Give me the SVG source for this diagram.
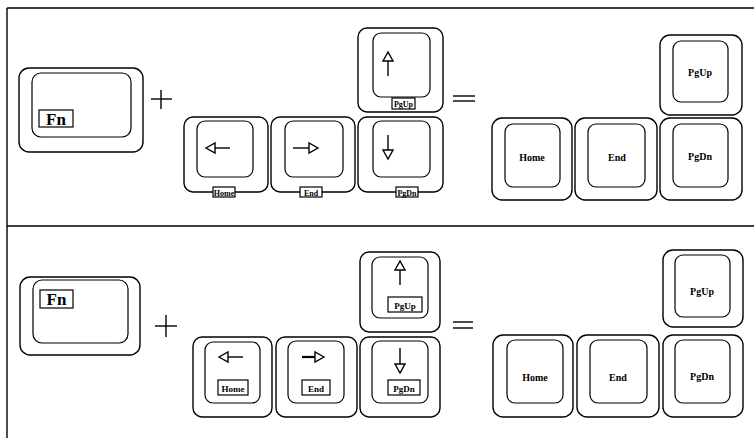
<svg xmlns="http://www.w3.org/2000/svg" width="754" height="438" viewBox="0 0 754 438">
<style>
.o{fill:none;stroke:#000;stroke-width:1.4}
.i{fill:none;stroke:#000;stroke-width:1.2}
.lb{fill:#fff;stroke:#000;stroke-width:1.2}
.ln{stroke:#000;stroke-width:1.4;fill:none}
.ah{fill:#fff;stroke:#000;stroke-width:1.4}
.t{font-family:"Liberation Serif",serif;font-weight:bold;fill:#000;text-anchor:middle}
.fn{font-family:"Liberation Serif",serif;fill:#000;font-size:17px;font-weight:bold;text-anchor:middle}
</style>
<rect width="754" height="438" fill="#fff"/>
<g id="frame">
<line class="ln" x1="7" y1="8" x2="754" y2="8"/>
<line class="ln" x1="7" y1="226" x2="754" y2="226"/>
<line class="ln" x1="7" y1="8" x2="7" y2="438"/>
</g>
<g id="fn1"><rect class="o" x="19" y="68" width="124" height="84" rx="10"/><rect class="i" x="32" y="73" width="99" height="64" rx="9"/><rect class="lb" x="39" y="110" width="34" height="17"/><text class="fn" x="56" y="124.5">Fn</text></g>
<g id="plus1"><line class="ln" x1="151" y1="99" x2="172" y2="99"/><line class="ln" x1="161" y1="90" x2="161" y2="109"/></g>
<g id="left1"><rect class="o" x="184" y="117" width="84" height="75" rx="9"/><rect class="i" x="197" y="121" width="56" height="56" rx="8"/><line class="ln" x1="214" y1="148" x2="230" y2="148"/><polygon class="ah" points="206,148 215,143 215,153"/><rect class="lb" x="213" y="187" width="22" height="10"/><text class="t" x="224" y="195.5" font-size="8">Home</text></g>
<g id="right1"><rect class="o" x="271" y="117" width="84" height="75" rx="9"/><rect class="i" x="285" y="121" width="58" height="56" rx="8"/><line class="ln" x1="293" y1="148" x2="309" y2="148"/><polygon class="ah" points="318,148 309,143 309,153"/><rect class="lb" x="300" y="187" width="22" height="10"/><text class="t" x="311" y="195.5" font-size="8">End</text></g>
<g id="down1"><rect class="o" x="358" y="117" width="85" height="75" rx="9"/><rect class="i" x="373" y="121" width="57" height="56" rx="8"/><line class="ln" x1="388" y1="135" x2="388" y2="150"/><polygon class="ah" points="388,159 383,150 393,150"/><rect class="lb" x="396" y="187" width="22" height="10"/><text class="t" x="407" y="195.5" font-size="8">PgDn</text></g>
<g id="up1"><rect class="o" x="358" y="28" width="85" height="84" rx="9"/><rect class="i" x="373" y="33" width="57" height="64" rx="8"/><line class="ln" x1="388" y1="61" x2="388" y2="76"/><polygon class="ah" points="388,52 383,61 393,61"/><rect class="lb" x="392" y="98" width="23" height="11"/><text class="t" x="403.5" y="106.5" font-size="8">PgUp</text></g>
<g id="eq1"><line class="ln" x1="453" y1="96" x2="475" y2="96"/><line class="ln" x1="453" y1="101" x2="475" y2="101"/></g>
<g id="home1"><rect class="o" x="492" y="118" width="80" height="82" rx="10"/><rect class="i" x="505" y="124" width="55" height="63" rx="8"/><text class="t" x="532" y="161" font-size="10">Home</text></g>
<g id="end1"><rect class="o" x="575" y="118" width="82" height="82" rx="10"/><rect class="i" x="588" y="124" width="57" height="63" rx="8"/><text class="t" x="617" y="161" font-size="10">End</text></g>
<g id="pgdn1"><rect class="o" x="660" y="118" width="82" height="82" rx="10"/><rect class="i" x="673" y="124" width="55" height="63" rx="8"/><text class="t" x="700" y="160" font-size="10">PgDn</text></g>
<g id="pgup1"><rect class="o" x="660" y="35" width="82" height="80" rx="10"/><rect class="i" x="673" y="41" width="55" height="61" rx="8"/><text class="t" x="700" y="76" font-size="10">PgUp</text></g>
<g id="fn2"><rect class="o" x="20" y="277" width="120" height="78" rx="10"/><rect class="i" x="33" y="280" width="95" height="63" rx="9"/><rect class="lb" x="40" y="290" width="33" height="18"/><text class="fn" x="56.5" y="305">Fn</text></g>
<g id="plus2"><line class="ln" x1="155" y1="326" x2="177" y2="326"/><line class="ln" x1="166" y1="315" x2="166" y2="337"/></g>
<g id="left2"><rect class="o" x="193" y="337" width="79" height="80" rx="9"/><rect class="i" x="205" y="342" width="55" height="61" rx="8"/><line class="ln" x1="227" y1="357" x2="243" y2="357"/><polygon class="ah" points="219,357 228,352 228,362"/><rect class="lb" x="218" y="380" width="30" height="15"/><text class="t" x="233" y="391.5" font-size="9">Home</text></g>
<g id="right2"><rect class="o" x="276" y="337" width="81" height="80" rx="9"/><rect class="i" x="288" y="341" width="56" height="62" rx="8"/><line class="ln" x1="302" y1="357" x2="315" y2="357" style="stroke-width:2.2"/><polygon class="ah" points="324,357 315,352 315,362"/><rect class="lb" x="302" y="380" width="28" height="15"/><text class="t" x="316" y="391.5" font-size="9">End</text></g>
<g id="down2"><rect class="o" x="360" y="337" width="80" height="80" rx="9"/><rect class="i" x="372" y="341" width="56" height="62" rx="8"/><line class="ln" x1="400" y1="348" x2="400" y2="364"/><polygon class="ah" points="400,373 395,364 405,364"/><rect class="lb" x="388" y="380" width="32" height="15"/><text class="t" x="404" y="391.5" font-size="9">PgDn</text></g>
<g id="up2"><rect class="o" x="360" y="252" width="80" height="80" rx="9"/><rect class="i" x="372" y="257" width="56" height="61" rx="8"/><line class="ln" x1="400" y1="270" x2="400" y2="285"/><polygon class="ah" points="400,261 395,270 405,270"/><rect class="lb" x="388" y="297" width="34" height="15"/><text class="t" x="405" y="308.5" font-size="9">PgUp</text></g>
<g id="eq2"><line class="ln" x1="453" y1="322" x2="473" y2="322"/><line class="ln" x1="453" y1="328" x2="473" y2="328"/></g>
<g id="home2"><rect class="o" x="493" y="335" width="80" height="82" rx="10"/><rect class="i" x="507" y="340" width="56" height="63" rx="8"/><text class="t" x="535" y="381" font-size="10">Home</text></g>
<g id="end2"><rect class="o" x="577" y="335" width="82" height="82" rx="10"/><rect class="i" x="590" y="340" width="57" height="63" rx="8"/><text class="t" x="618" y="381" font-size="10">End</text></g>
<g id="pgdn2"><rect class="o" x="663" y="335" width="80" height="82" rx="10"/><rect class="i" x="675" y="340" width="55" height="63" rx="8"/><text class="t" x="702" y="380" font-size="10">PgDn</text></g>
<g id="pgup2"><rect class="o" x="663" y="250" width="80" height="77" rx="10"/><rect class="i" x="675" y="255" width="55" height="62" rx="8"/><text class="t" x="702" y="295" font-size="10">PgUp</text></g>
</svg>
